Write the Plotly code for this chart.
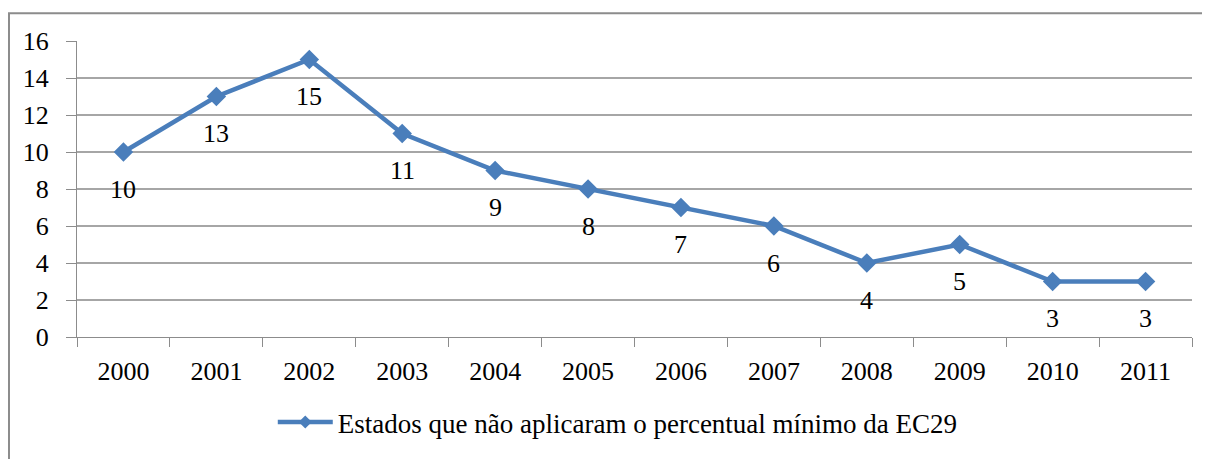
import plotly.graph_objects as go

years = ["2000", "2001", "2002", "2003", "2004", "2005", "2006", "2007", "2008", "2009", "2010", "2011"]
values = [10, 13, 15, 11, 9, 8, 7, 6, 4, 5, 3, 3]
series_name = "Estados que não aplicaram o percentual mínimo da EC29"
y_ticks = [0, 2, 4, 6, 8, 10, 12, 14, 16]

BLUE = "#4A7EBB"
FONT = "Times New Roman"
FS = 26

fig = go.Figure()
fig.add_trace(go.Scatter(
    x=years, y=values, name=series_name, mode="lines+markers",
    line=dict(color=BLUE, width=4.5),
    marker=dict(symbol="diamond", size=15, color=BLUE),
    cliponaxis=False, showlegend=False,
))
# legend entry with the smaller legend glyph
fig.add_trace(go.Scatter(
    x=[None], y=[None], name=series_name, mode="lines+markers",
    line=dict(color=BLUE, width=4.5),
    marker=dict(symbol="diamond", size=10, color=BLUE),
    showlegend=True,
))

for i, v in enumerate(values):
    fig.add_annotation(x=i, y=v, xref="x", yref="y", text=str(v), showarrow=False, yshift=-37,
                       font=dict(family=FONT, size=FS, color="#000000"))

fig.update_layout(
    width=1202, height=451,
    margin=dict(l=69, r=18, t=33, b=119),
    paper_bgcolor="white", plot_bgcolor="white",
    font=dict(family=FONT, size=FS, color="#000000"),
    showlegend=True,
    legend=dict(orientation="h", x=0.485, xanchor="center", y=-0.289, yanchor="middle",
                font=dict(family=FONT, size=27), itemwidth=55, bgcolor="rgba(0,0,0,0)",
                tracegroupgap=0),
    xaxis=dict(type="category", categoryorder="array", categoryarray=years,
               showgrid=False, showline=True, linecolor="#8C8C8C", linewidth=1,
               ticks="outside", tickson="boundaries", ticklen=9, tickcolor="#8C8C8C",
               ticklabelstandoff=11, range=[-0.5, 11.5], automargin=False,
               tickfont=dict(family=FONT, size=FS)),
    yaxis=dict(range=[0, 16], tickvals=y_ticks, showgrid=True, gridcolor="#A6A6A6", gridwidth=1.5,
               showline=True, linecolor="#8C8C8C", linewidth=1, ticks="outside", ticklen=10,
               tickcolor="#8C8C8C", ticklabelstandoff=12, zeroline=False, automargin=False,
               tickfont=dict(family=FONT, size=FS)),
    shapes=[dict(type="rect", xref="paper", yref="paper", x0=-0.061, x1=1.03, y0=-0.5, y1=1.0936,
                 line=dict(color="#8C8C8C", width=2), fillcolor="rgba(0,0,0,0)", layer="below")],
)

fig.write_html("out.html")
